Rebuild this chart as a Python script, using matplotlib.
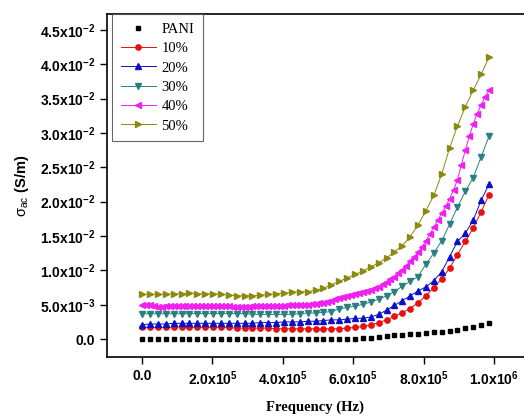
import matplotlib
matplotlib.use("Agg")
import matplotlib.pyplot as plt
from matplotlib.ticker import FixedLocator, FixedFormatter

plt.rcParams['font.family'] = ['Liberation Sans', 'DejaVu Sans']
plt.rcParams['mathtext.fontset'] = 'custom'
plt.rcParams['mathtext.rm'] = 'Liberation Sans'
plt.rcParams['mathtext.it'] = 'Liberation Sans:italic'
plt.rcParams['mathtext.bf'] = 'Liberation Sans:bold'

# frequency grid (Hz), 45 points for most series
freq = [0, 22400, 44800, 67200, 89600, 112000, 134400, 156800, 179200, 201600,
        224000, 246400, 268800, 291200, 313600, 336000, 358400, 380800, 403200, 425600,
        448000, 470400, 492800, 515200, 537600, 560000, 582400, 604800, 627200, 649600,
        672000, 694400, 716800, 739200, 761600, 784000, 806400, 828800, 851200, 873600,
        896000, 918400, 940800, 963200, 985600]

# 40% series is sampled twice as densely
freq_40 = [0, 11200, 22400, 33600, 44800, 56000, 67200, 78400, 89600, 100800,
           112000, 123200, 134400, 145600, 156800, 168000, 179200, 190400, 201600, 212800,
           224000, 235200, 246400, 257600, 268800, 280000, 291200, 302400, 313600, 324800,
           336000, 347200, 358400, 369600, 380800, 392000, 403200, 414400, 425600, 436800,
           448000, 459200, 470400, 481600, 492800, 504000, 515200, 526400, 537600, 548800,
           560000, 571200, 582400, 593600, 604800, 616000, 627200, 638400, 649600, 660800,
           672000, 683200, 694400, 705600, 716800, 728000, 739200, 750400, 761600, 772800,
           784000, 795200, 806400, 817600, 828800, 840000, 851200, 862400, 873600, 884800,
           896000, 907200, 918400, 929600, 940800, 952000, 963200, 974400, 985600]

# conductivity values in units of 1e-3 S/m
pani = [0.02, 0.02, 0.02, 0.02, 0.02, 0.02, 0.02, 0.02, 0.02, 0.02,
        0.02, 0.02, 0.02, 0.02, 0.02, 0.02, 0.02, 0.02, 0.02, 0.02,
        0.02, 0.02, 0.02, 0.02, 0.02, 0.03, 0.04, 0.05, 0.1, 0.15,
        0.3, 0.45, 0.55, 0.65, 0.72, 0.8, 0.88, 0.97, 1.07, 1.2,
        1.35, 1.55, 1.8, 2.1, 2.4]

p10 = [1.7, 1.7, 1.7, 1.7, 1.7, 1.8, 1.7, 1.7, 1.7, 1.7,
       1.7, 1.7, 1.6, 1.6, 1.6, 1.6, 1.6, 1.5, 1.5, 1.5,
       1.5, 1.5, 1.5, 1.5, 1.5, 1.5, 1.6, 1.7, 1.85, 2.05,
       2.4, 2.8, 3.3, 3.85, 4.45, 5.3, 6.3, 7.5, 8.8, 10.3,
       12.3, 14.2, 16.2, 18.5, 21.0]

p20 = [2.1, 2.2, 2.2, 2.2, 2.3, 2.3, 2.3, 2.3, 2.3, 2.3,
       2.3, 2.3, 2.3, 2.3, 2.3, 2.4, 2.4, 2.4, 2.5, 2.5,
       2.5, 2.6, 2.6, 2.7, 2.8, 2.8, 2.9, 3.0, 3.05, 3.2,
       3.6, 4.2, 4.9, 5.6, 6.3, 7.0, 7.6, 8.5, 9.8, 12.0,
       14.2, 15.4, 17.3, 20.2, 22.5]

p30 = [3.7, 3.7, 3.7, 3.7, 3.7, 3.7, 3.7, 3.7, 3.7, 3.7,
       3.7, 3.7, 3.7, 3.7, 3.6, 3.6, 3.6, 3.6, 3.6, 3.6,
       3.7, 3.8, 3.8, 3.9, 4.0, 4.4, 4.6, 4.8, 5.05, 5.4,
       5.8, 6.3, 6.9, 7.7, 8.4, 9.1, 10.9, 12.5, 14.3, 16.7,
       19.2, 21.5, 23.5, 26.5, 29.5]

p40 = [5.0, 4.9, 4.9, 4.8, 4.7, 4.7, 4.8, 4.8, 4.8, 4.8,
       4.8, 4.8, 4.8, 4.8, 4.8, 4.8, 4.8, 4.8, 4.8, 4.8,
       4.8, 4.8, 4.8, 4.7, 4.7, 4.7, 4.7, 4.7, 4.8, 4.8,
       4.8, 4.8, 4.8, 4.8, 4.8, 4.8, 4.8, 4.9, 4.9, 4.9,
       4.9, 5.0, 5.0, 5.1, 5.1, 5.2, 5.3, 5.4, 5.6, 5.8,
       6.0, 6.1, 6.2, 6.35, 6.5, 6.65, 6.8, 7.0, 7.2, 7.4,
       7.6, 7.95, 8.3, 8.7, 9.1, 9.6, 10.1, 10.7, 11.3, 11.9,
       12.6, 13.4, 14.3, 15.3, 16.3, 17.3, 18.3, 19.3, 20.4, 21.7,
       23.2, 25.4, 27.5, 29.5, 31.3, 32.8, 34.1, 35.2, 36.2]

p50 = [6.5, 6.5, 6.5, 6.5, 6.6, 6.6, 6.7, 6.6, 6.6, 6.6,
       6.5, 6.4, 6.3, 6.3, 6.3, 6.4, 6.5, 6.6, 6.7, 6.8,
       6.9, 6.9, 7.1, 7.4, 7.9, 8.4, 8.9, 9.4, 9.9, 10.5,
       11.1, 11.8, 12.7, 13.6, 14.9, 16.6, 18.7, 20.9, 24.0, 27.8,
       31.0, 33.8, 36.2, 38.5, 41.0]

ytick_vals = [0.0, 0.005, 0.010, 0.015, 0.020, 0.025, 0.030, 0.035, 0.040, 0.045]
ytick_labels = ['0.0', '5.0x10$^{\\mathbf{-3}}$', '1.0x10$^{\\mathbf{-2}}$', '1.5x10$^{\\mathbf{-2}}$',
                '2.0x10$^{\\mathbf{-2}}$', '2.5x10$^{\\mathbf{-2}}$', '3.0x10$^{\\mathbf{-2}}$',
                '3.5x10$^{\\mathbf{-2}}$', '4.0x10$^{\\mathbf{-2}}$', '4.5x10$^{\\mathbf{-2}}$']
xtick_vals = [0, 200000, 400000, 600000, 800000, 1000000]
xtick_labels = ['0.0', '2.0x10$^{\\mathbf{5}}$', '4.0x10$^{\\mathbf{5}}$', '6.0x10$^{\\mathbf{5}}$',
                '8.0x10$^{\\mathbf{5}}$', '1.0x10$^{\\mathbf{6}}$']

def si(vals):
    return [v * 1e-3 for v in vals]

fig = plt.figure(figsize=(5.24, 4.18), dpi=100)
ax = fig.add_axes([0.204, 0.146, 0.796, 0.8206])

ax.plot(freq, si(pani), linestyle='none', marker='s', ms=3, color='black', label='PANI')
ax.plot(freq, si(p10), '-', marker='o', ms=3.8, lw=0.7, color='#e81010', label='10%')
ax.plot(freq, si(p20), '-', marker='^', ms=4.2, lw=0.7, color='#0a10c8', label='20%')
ax.plot(freq, si(p30), '-', marker='v', ms=4.2, lw=0.7, color='#2a8080', label='30%')
ax.plot(freq_40, si(p40), '-', marker='<', ms=4.2, lw=0.7, color='#f020f0', label='40%')
ax.plot(freq, si(p50), '-', marker='>', ms=4.2, lw=0.7, color='#8a8a10', label='50%')

ax.set_xlim(-100000, 1085000)
ax.set_ylim(-0.0026, 0.0473)

ax.yaxis.set_major_locator(FixedLocator(ytick_vals))
ax.yaxis.set_major_formatter(FixedFormatter(ytick_labels))
ax.xaxis.set_major_locator(FixedLocator(xtick_vals))
ax.xaxis.set_major_formatter(FixedFormatter(xtick_labels))
ax.tick_params(direction='out', length=5, width=1, labelsize=10)
for lab in ax.get_xticklabels() + ax.get_yticklabels():
    lab.set_fontweight('bold')
ax.tick_params(axis='x', pad=4)

ax.spines['right'].set_visible(False)
for s in ['left', 'bottom', 'top']:
    ax.spines[s].set_linewidth(1.2)

ax.set_xlabel('Frequency (Hz)', family='Liberation Serif', fontweight='bold', fontsize=10.5, labelpad=9)
ax.set_ylabel('$\\mathrm{\\sigma_{ac}}$ $\\mathbf{(S/m)}$', fontsize=10.5, labelpad=6)

leg = ax.legend(loc='upper left', bbox_to_anchor=(0.012, 1.0), borderaxespad=0,
                prop={'family': 'Liberation Serif', 'size': 10.5}, frameon=True, fancybox=False,
                edgecolor='#444444', handlelength=2.4, handletextpad=0.4, labelspacing=0.42,
                borderpad=0.6)
leg.get_frame().set_linewidth(0.8)

fig.savefig('out.png', dpi=100)
